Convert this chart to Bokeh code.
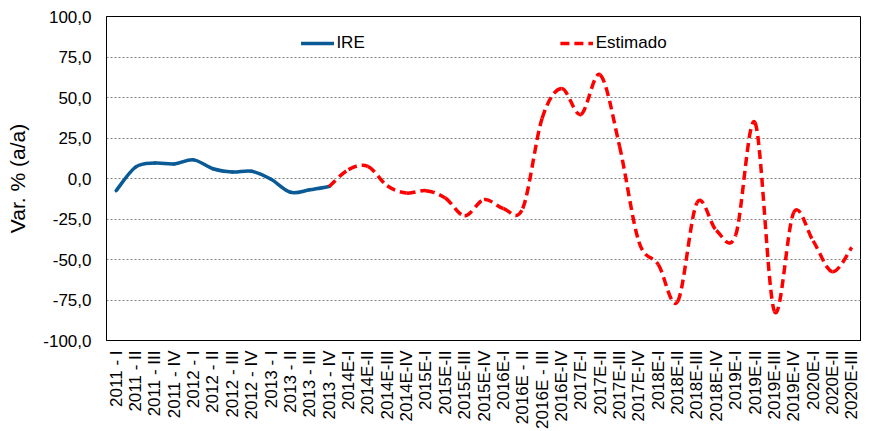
import numpy as np
from bokeh.plotting import figure
from bokeh.models import FixedTicker, Legend, LegendItem, ColumnDataSource
from bokeh.embed import file_html
from bokeh.resources import INLINE

# ---------------- data ----------------
quarters = [
    "2011 - I", "2011 - II", "2011 - III", "2011 - IV",
    "2012 - I", "2012 - II", "2012 - III", "2012 - IV",
    "2013 - I", "2013 - II", "2013 - III", "2013 - IV",
    "2014E-I", "2014E-II", "2014E-III", "2014E-IV",
    "2015E-I", "2015E-II", "2015E-III", "2015E-IV",
    "2016E-I", "2016E - II", "2016E - III", "2016E-IV",
    "2017E-I", "2017E-II", "2017E-III", "2017E-IV",
    "2018E-I", "2018E-II", "2018E-III", "2018E-IV",
    "2019E-I", "2019E-II", "2019E-III", "2019E-IV",
    "2020E-I", "2020E-II", "2020E-III",
]

# IRE (observed), 2011 - I .. 2013 - IV
ire_values = [-7.5, 7.0, 9.5, 9.0, 11.5, 6.0, 4.0, 4.5, -0.5, -8.5, -7.0, -5.0]

# Estimado, 2013 - IV .. 2020E-III
est_first_quarter = "2013 - IV"
est_values = [-5.0, 5.5, 7.5, -4.5, -9.0, -7.5, -12.0, -23.0, -13.0, -18.5,
              -18.5, 37.0, 55.5, 39.5, 64.0, 20.0, -39.0, -53.0, -76.0, -15.0,
              -32.0, -35.0, 34.5, -82.0, -21.0, -38.5, -57.5, -42.5]

y_ticks = [-100, -75, -50, -25, 0, 25, 50, 75, 100]
y_tick_labels = ["-100,0", "-75,0", "-50,0", "-25,0", "0,0", "25,0", "50,0", "75,0", "100,0"]

series_names = ["IRE", "Estimado"]
y_axis_title = "Var. % (a/a)"

FONT = "Liberation Sans"
BLUE = "#0A5A96"
RED = "#FF0000"


def smooth_source(xs, ys):
    """Bezier control points (Catmull-Rom style smoothing, as in spreadsheet 'smoothed line')."""
    xs = np.asarray(xs, dtype=float)
    ys = np.asarray(ys, dtype=float)
    n = len(xs)
    xp = np.concatenate([[xs[0]], xs, [xs[-1]]])
    yp = np.concatenate([[ys[0]], ys, [ys[-1]]])
    cx0 = xs[:-1] + (xp[2:n + 1] - xp[0:n - 1]) / 6.0
    cy0 = ys[:-1] + (yp[2:n + 1] - yp[0:n - 1]) / 6.0
    cx1 = xs[1:] - (xp[3:n + 2] - xp[1:n]) / 6.0
    cy1 = ys[1:] - (yp[3:n + 2] - yp[1:n]) / 6.0
    return ColumnDataSource(dict(x0=xs[:-1], y0=ys[:-1], x1=xs[1:], y1=ys[1:],
                                 cx0=cx0, cy0=cy0, cx1=cx1, cy1=cy1))


ire_x = list(range(len(ire_values)))
est_start = quarters.index(est_first_quarter)
est_x = list(range(est_start, est_start + len(est_values)))

p = figure(width=861, height=431, output_backend="svg", toolbar_location=None,
           x_range=(-0.5, len(quarters) - 0.5), y_range=(-100, 100),
           min_border_left=106, min_border_right=0, min_border_top=16, min_border_bottom=40)

p.background_fill_color = "white"
p.border_fill_color = "white"
p.outline_line_color = "black"
p.outline_line_width = 1
p.outline_line_alpha = 1.0

# axes
p.xaxis.ticker = FixedTicker(ticks=list(range(len(quarters))))
p.xaxis.major_label_overrides = {i: q for i, q in enumerate(quarters)}
p.xaxis.major_label_orientation = np.pi / 2
p.xaxis.major_label_standoff = 10
p.xaxis.major_label_text_font = FONT
p.xaxis.major_label_text_font_size = "17px"
p.xaxis.major_label_text_color = "black"

p.yaxis.ticker = FixedTicker(ticks=y_ticks)
p.yaxis.major_label_overrides = {t: l for t, l in zip(y_ticks, y_tick_labels)}
p.yaxis.major_label_standoff = 15
p.yaxis.major_label_text_font = FONT
p.yaxis.major_label_text_font_size = "17px"
p.yaxis.major_label_text_color = "black"
p.yaxis.axis_label = y_axis_title
p.yaxis.axis_label_text_font = FONT
p.yaxis.axis_label_text_font_size = "21px"
p.yaxis.axis_label_text_font_style = "normal"
p.yaxis.axis_label_text_color = "black"
p.yaxis.axis_label_standoff = 11

for ax in (p.xaxis, p.yaxis):
    ax.major_tick_out = 0
    ax.major_tick_in = 0
    ax.minor_tick_out = 0
    ax.minor_tick_in = 0
    ax.axis_line_color = "black"
    ax.axis_line_width = 1

p.xgrid.visible = False
p.ygrid.ticker = FixedTicker(ticks=y_ticks)
p.ygrid.grid_line_color = "#808080"
p.ygrid.grid_line_dash = "2 2"
p.ygrid.grid_line_width = 1

# series
r_ire = p.bezier(x0="x0", y0="y0", x1="x1", y1="y1", cx0="cx0", cy0="cy0", cx1="cx1", cy1="cy1",
                 source=smooth_source(ire_x, ire_values), line_color=BLUE, line_width=3.5,
                 line_cap="round")
r_est = p.bezier(x0="x0", y0="y0", x1="x1", y1="y1", cx0="cx0", cy0="cy0", cx1="cx1", cy1="cy1",
                 source=smooth_source(est_x, est_values), line_color=RED, line_width=3.5,
                 line_dash="9 5")

legend = Legend(items=[LegendItem(label=series_names[0], renderers=[r_ire]),
                       LegendItem(label=series_names[1], renderers=[r_est])],
                orientation="horizontal", location="top_center",
                spacing=195, glyph_width=33, glyph_height=18, label_height=18,
                label_standoff=3, padding=0, margin=17,
                border_line_color=None, background_fill_alpha=0,
                label_text_font=FONT, label_text_font_size="17px",
                label_text_color="black")
p.add_layout(legend)

open("out.html", "w").write(file_html(p, INLINE))
